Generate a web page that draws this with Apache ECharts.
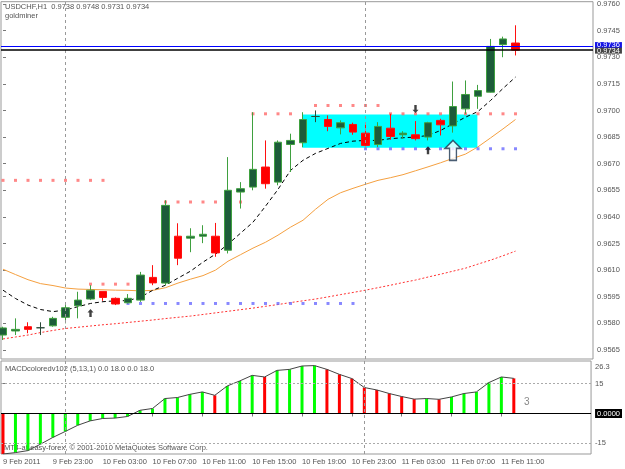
<!DOCTYPE html>
<html>
<head>
<meta charset="utf-8">
<script src="https://cdn.jsdelivr.net/npm/echarts@6/dist/echarts.min.js"></script>
<style>
  html, body { margin: 0; padding: 0; background: #fff; }
  #chart { width: 625px; height: 469px; }
</style>
</head>
<body>
<div id="chart"></div>
<script>
// time axis labels (one every 4 hourly bars)
const labelBars = [0, 4, 8, 12, 16, 20, 24, 28, 32, 36, 40];
const timeLabels = ["9 Feb 2011", "9 Feb 23:00", "10 Feb 03:00", "10 Feb 07:00", "10 Feb 11:00",
  "10 Feb 15:00", "10 Feb 19:00", "10 Feb 23:00", "11 Feb 03:00", "11 Feb 07:00", "11 Feb 11:00"];
const priceTicks = [0.9565, 0.958, 0.9595, 0.961, 0.9625, 0.964, 0.9655, 0.967, 0.9685, 0.97, 0.9715, 0.973, 0.9745, 0.976];
const macdTicks = [26.3, 15, 0, -15, -20.3];

// USDCHF H1 bars: open, close, low, high
const ohlc = [
  [0.95734, 0.95774, 0.95706, 0.95781], [0.95757, 0.95766, 0.95734, 0.95828],
  [0.95781, 0.95766, 0.95744, 0.95806], [0.95775, 0.95775, 0.95734, 0.95806],
  [0.95786, 0.95828, 0.95781, 0.95837], [0.95834, 0.95888, 0.95800, 0.95903],
  [0.95899, 0.95931, 0.95828, 0.95978], [0.95937, 0.95987, 0.95931, 0.96015],
  [0.95980, 0.95946, 0.95927, 0.95980], [0.95941, 0.95909, 0.95903, 0.95946],
  [0.95916, 0.95941, 0.95912, 0.95965], [0.95931, 0.96072, 0.95921, 0.96090],
  [0.96059, 0.96028, 0.96015, 0.96128], [0.96027, 0.96465, 0.96015, 0.96494],
  [0.96291, 0.96167, 0.96128, 0.96364], [0.96280, 0.96291, 0.96201, 0.96336],
  [0.96291, 0.96302, 0.96252, 0.96353], [0.96291, 0.96197, 0.96175, 0.96366],
  [0.96212, 0.96550, 0.96194, 0.96737], [0.96540, 0.96559, 0.96447, 0.96596],
  [0.96568, 0.96668, 0.96550, 0.96990], [0.96681, 0.96587, 0.96559, 0.96831],
  [0.96596, 0.96821, 0.96578, 0.96831], [0.96808, 0.96831, 0.96653, 0.96869],
  [0.96818, 0.96949, 0.96793, 0.96990], [0.96966, 0.96966, 0.96934, 0.97000],
  [0.96949, 0.96910, 0.96883, 0.96972], [0.96902, 0.96931, 0.96865, 0.96944],
  [0.96921, 0.96878, 0.96863, 0.96931], [0.96872, 0.96803, 0.96793, 0.96934],
  [0.96808, 0.96910, 0.96793, 0.96934], [0.96900, 0.96853, 0.96835, 0.96981],
  [0.96863, 0.96872, 0.96841, 0.96883], [0.96863, 0.96841, 0.96831, 0.96940],
  [0.96850, 0.96931, 0.96831, 0.96936], [0.96944, 0.96919, 0.96859, 0.96953],
  [0.96913, 0.97022, 0.96875, 0.97163], [0.97009, 0.97090, 0.96981, 0.97169],
  [0.97080, 0.97112, 0.97009, 0.97144], [0.97103, 0.97361, 0.97101, 0.97403],
  [0.97371, 0.97403, 0.97300, 0.97416], [0.97380, 0.97340, 0.97310, 0.97480]
];

// moving averages
const maFast = [0.95987, 0.95940, 0.95903, 0.95878, 0.95866, 0.95875, 0.95894, 0.95912, 0.95922, 0.95927,
  0.95928, 0.95948, 0.95987, 0.96015, 0.96055, 0.96094, 0.96145, 0.96190, 0.96246, 0.96308,
  0.96370, 0.96460, 0.96555, 0.96662, 0.96719, 0.96758, 0.96786, 0.96814, 0.96827, 0.96831,
  0.96831, 0.96841, 0.96846, 0.96850, 0.96859, 0.96887, 0.96925, 0.96962, 0.96994, 0.97056,
  0.97124, 0.97188];
const maMid = [0.96105, 0.96075, 0.96046, 0.96024, 0.96013, 0.95999, 0.95993, 0.95991, 0.95989, 0.95987,
  0.95986, 0.95983, 0.95986, 0.96001, 0.96027, 0.96049, 0.96069, 0.96100, 0.96150, 0.96187,
  0.96224, 0.96257, 0.96297, 0.96342, 0.96381, 0.96443, 0.96499, 0.96536, 0.96561, 0.96584,
  0.96606, 0.96621, 0.96638, 0.96660, 0.96682, 0.96705, 0.96730, 0.96754, 0.96795, 0.96845,
  0.96896, 0.96949];
const maSlow = [0.95712, 0.95723, 0.95734, 0.95748, 0.95760, 0.95771, 0.95778, 0.95785, 0.95792, 0.95798,
  0.95805, 0.95812, 0.95819, 0.95827, 0.95834, 0.95841, 0.95850, 0.95859, 0.95868, 0.95877,
  0.95886, 0.95896, 0.95906, 0.95917, 0.95927, 0.95937, 0.95949, 0.95962, 0.95974, 0.95987,
  0.96001, 0.96015, 0.96030, 0.96044, 0.96061, 0.96077, 0.96094, 0.96111, 0.96134, 0.96156,
  0.96181, 0.96207];

// dotted levels: [first bar, last bar, price]
const redLevels = [[0, 8, 0.96606], [7, 10, 0.96021], [13, 19, 0.96484], [20, 23, 0.96981],
  [25, 30, 0.97028], [31, 41, 0.96981]];
const blueLevels = [[10, 28, 0.95912], [29, 41, 0.96784]];

// signal arrows: [bar, price]
const upArrows = [[7, 0.95858], [34, 0.96775]];
const downArrows = [[33, 0.97008]];
const bigArrows = [[36, 0.96775]];

// consolidation box: [from bar, to bar, top, bottom]
const box = [23.95, 37.95, 0.96977, 0.96790];
const askPrice = 0.9736;
const bidPrice = 0.9734;
const daySeparators = [5, 29];

// MACDcoloredv102 (5,13,1)
const macd = [-20.3, -19.6, -18.6, -15.4, -12.0, -9.0, -5.9, -3.7, -2.5, -2.3,
  -1.5, 1.6, 2.5, 7.5, 8.0, 9.6, 10.8, 9.1, 13.8, 16.3,
  19.1, 18.3, 21.6, 22.1, 23.8, 24.0, 22.1, 19.6, 17.5, 13.0,
  11.8, 10.0, 8.5, 7.2, 7.5, 7.1, 8.3, 10.0, 10.8, 15.5,
  18.3, 17.6];

const font = "Liberation Sans";
const txt = "#555";
const xMin = -0.16, xMax = 47.2;

function levelPoints(levels) {
  const pts = [];
  levels.forEach(l => { for (let i = l[0]; i <= l[1]; i++) pts.push([i, l[2]]); });
  return pts;
}
const last = ohlc[ohlc.length - 1];
const fmt4 = v => Number(v).toFixed(4);

const upPath = "path://M5,0 L10,5 L7,5 L7,12 L3,12 L3,5 L0,5 Z";
const bigPath = "path://M7,0 L14,8 L10,8 L10,20 L4,20 L4,8 L0,8 Z";
const sepLine = {
  symbol: "none", silent: true, animation: false, label: { show: false },
  lineStyle: { color: "#999", type: [3, 3], width: 1 },
  data: daySeparators.map(b => ({ xAxis: b }))
};
// price tag next to the axis
const tag = (price, bg, dy) => ({
  position: "end", distance: 2, offset: [0, dy], formatter: () => fmt4(price), color: "#fff",
  backgroundColor: bg, padding: [0, 2, 0, 2], lineHeight: 6, fontSize: 7.5, fontFamily: font
});

const chart = echarts.init(document.getElementById("chart"));
chart.setOption({
  animation: false,
  backgroundColor: "#fff",
  textStyle: { fontFamily: font },
  grid: [
    { left: 1, top: 1, width: 592, height: 358, show: true, borderColor: "#999", borderWidth: 1 },
    { left: 1, top: 361, width: 592, height: 93, show: true, borderColor: "#999", borderWidth: 1 }
  ],
  xAxis: [
    { type: "value", gridIndex: 0, min: xMin, max: xMax, axisLine: { show: false },
      axisTick: { show: false }, axisLabel: { show: false }, splitLine: { show: false } },
    { type: "value", gridIndex: 1, min: xMin, max: xMax, axisLine: { show: false },
      axisTick: { show: true, length: 3, customValues: labelBars, lineStyle: { color: "#777" } },
      axisLabel: { customValues: labelBars, formatter: v => timeLabels[labelBars.indexOf(v)],
        align: "left", margin: 4, fontSize: 7.5, color: txt, fontFamily: font },
      splitLine: { show: false } }
  ],
  yAxis: [
    { type: "value", gridIndex: 0, position: "right", min: 0.95599, max: 0.97613,
      axisLine: { show: false }, splitLine: { show: false },
      axisTick: { show: true, length: 3, customValues: priceTicks, lineStyle: { color: "#777" } },
      axisLabel: { customValues: priceTicks, formatter: fmt4, margin: 4, fontSize: 7.5, color: txt, fontFamily: font } },
    { type: "value", gridIndex: 1, position: "right", min: -20.3, max: 26.3,
      axisLine: { show: false }, splitLine: { show: false },
      axisTick: { show: true, length: 3, customValues: [15, -15], lineStyle: { color: "#777" } },
      axisLabel: { customValues: macdTicks, margin: 4, fontSize: 7.5, color: txt, fontFamily: font,
        formatter: v => {
          if (Math.abs(v) < 1e-9) return "{z|0.0000}";
          if (Math.abs(v - 26.3) < 1e-6) return "{t|26.3}";
          if (Math.abs(v + 20.3) < 1e-6) return "{b|-20.3}";
          return "{n|" + v + "}";
        },
        rich: {
          z: { backgroundColor: "#000", color: "#fff", padding: [1, 2, 0, 2], fontSize: 7.5, fontFamily: font },
          t: { padding: [11, 0, 0, 0], fontSize: 7.5, color: txt, fontFamily: font },
          b: { padding: [0, 0, 9, 0], fontSize: 7.5, color: txt, fontFamily: font },
          n: { fontSize: 7.5, color: txt, fontFamily: font }
        } } }
  ],
  graphic: [
    { type: "text", left: 5, top: 3, silent: true,
      style: { text: "USDCHF,H1  " + [last[0], last[3], last[2], last[1]].map(fmt4).join(" "),
        fontSize: 7.5, fontFamily: font, fill: txt } },
    { type: "text", left: 5, top: 12, silent: true,
      style: { text: "goldminer", fontSize: 7.5, fontFamily: font, fill: txt } },
    { type: "text", left: 5, top: 365, silent: true,
      style: { text: "MACDcoloredv102 (5,13,1) 0.0 18.0 0.0 18.0", fontSize: 7.5, fontFamily: font, fill: txt } },
    { type: "text", left: 524, top: 397, silent: true,
      style: { text: "3", fontSize: 10, fontFamily: font, fill: "#888" } },
    { type: "text", left: 4, top: 444, silent: true,
      style: { text: "MT4-at-easy-forex, \u00a9 2001-2010 MetaQuotes Software Corp.", fontSize: 7.5, fontFamily: font, fill: txt } }
  ],
  series: [
    { type: "scatter", xAxisIndex: 0, yAxisIndex: 0, data: [], z: 0, silent: true,
      markArea: { silent: true, itemStyle: { color: "#00ffff", opacity: 1 },
        data: [[{ xAxis: box[0], yAxis: box[2] }, { xAxis: box[1], yAxis: box[3] }]] },
      markLine: sepLine },
    { type: "line", xAxisIndex: 0, yAxisIndex: 0, data: maSlow.map((v, i) => [i, v]), showSymbol: false, z: 1,
      lineStyle: { color: "#ff3030", width: 1, type: [2, 2] } },
    { type: "line", xAxisIndex: 0, yAxisIndex: 0, data: maMid.map((v, i) => [i, v]), showSymbol: false, z: 1,
      lineStyle: { color: "#f5a040", width: 1 } },
    { type: "line", xAxisIndex: 0, yAxisIndex: 0, data: maFast.map((v, i) => [i, v]), showSymbol: false, z: 1,
      lineStyle: { color: "#000", width: 1, type: [4, 3] },
      markLine: { symbol: "none", silent: true, animation: false, precision: 4,
        data: [
          { yAxis: askPrice, lineStyle: { color: "#0000ff", width: 1, type: "solid" }, label: tag(askPrice, "#1414e6", -1.5) },
          { yAxis: bidPrice, lineStyle: { color: "#000", width: 1.5, type: "solid" }, label: tag(bidPrice, "#444", 0.5) }
        ] } },
    { type: "scatter", xAxisIndex: 0, yAxisIndex: 0, data: levelPoints(redLevels), symbol: "rect", symbolSize: 3, z: 2,
      itemStyle: { color: "#ff6a6a" } },
    { type: "scatter", xAxisIndex: 0, yAxisIndex: 0, data: levelPoints(blueLevels), symbol: "rect", symbolSize: 3, z: 2,
      itemStyle: { color: "#6a6aff" } },
    { type: "candlestick", xAxisIndex: 0, yAxisIndex: 0, z: 3,
      data: ohlc.map((d, i) => [i].concat(d)), encode: { x: 0, y: [1, 2, 3, 4] },
      barWidth: 8,
      itemStyle: { color: "#1d5c3a", color0: "#ff0000", borderColor: "#3fa03f", borderColor0: "#ff1010",
        borderColorDoji: "#2c4a38", borderWidth: 1 } },
    { type: "scatter", xAxisIndex: 0, yAxisIndex: 0, data: upArrows, symbol: upPath, symbolSize: [6, 8], z: 4,
      itemStyle: { color: "#111" } },
    { type: "scatter", xAxisIndex: 0, yAxisIndex: 0, data: downArrows, symbol: upPath, symbolSize: [6, 8], symbolRotate: 180, z: 4,
      itemStyle: { color: "#111" } },
    { type: "scatter", xAxisIndex: 0, yAxisIndex: 0, data: bigArrows, symbol: bigPath, symbolSize: [16, 20], z: 4,
      itemStyle: { color: "#fff", borderColor: "#1b3550", borderWidth: 1.5 } },
    // MACD window
    { type: "bar", xAxisIndex: 1, yAxisIndex: 1, barWidth: 3, z: 2,
      data: macd.map((v, i) => ({ value: [i, v],
        itemStyle: { color: i > 0 && v > macd[i - 1] ? "#00ff00" : "#ff0000" } })),
      markLine: sepLine },
    { type: "line", xAxisIndex: 1, yAxisIndex: 1, data: macd.map((v, i) => [i, v]), showSymbol: false, z: 3,
      lineStyle: { color: "#444", width: 1 },
      markLine: { symbol: "none", silent: true, animation: false, label: { show: false },
        data: [
          { yAxis: 15, lineStyle: { color: "#aaa", type: [2, 2], width: 1 } },
          { yAxis: -15, lineStyle: { color: "#aaa", type: [2, 2], width: 1 } },
          { yAxis: 0, lineStyle: { color: "#000", type: "solid", width: 1 } }
        ] } }
  ]
});
window.addEventListener("resize", () => chart.resize());
</script>
</body>
</html>
